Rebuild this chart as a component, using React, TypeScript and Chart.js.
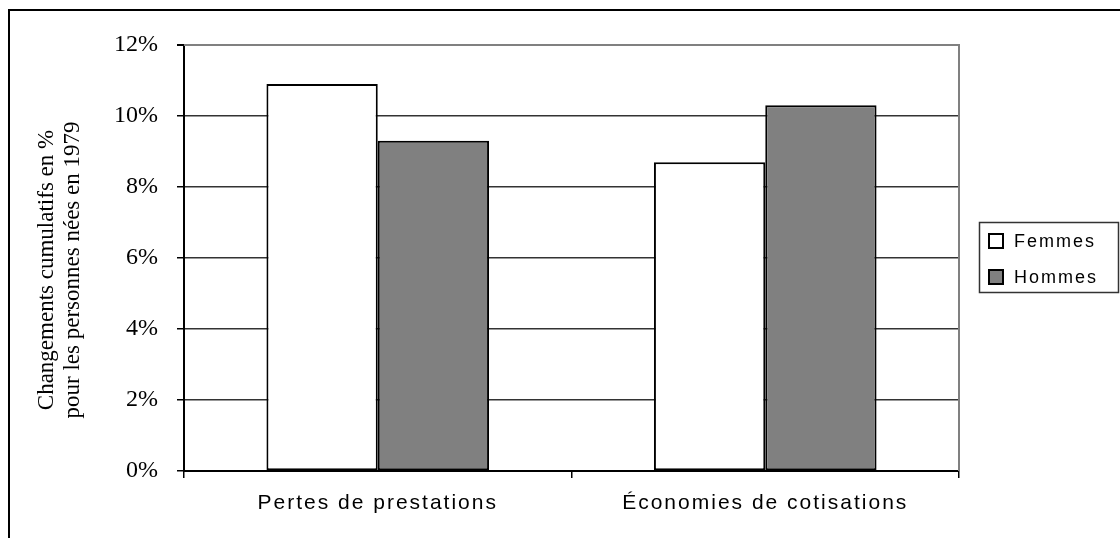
import React, { useEffect, useRef } from 'react';
import { Chart, registerables } from 'chart.js';

Chart.register(...registerables);

const categories = ['Pertes de prestations', 'Économies de cotisations'];
const seriesNames = ['Femmes', 'Hommes'];
const femmes = [10.9, 8.7];
const hommes = [9.3, 10.3];
const yTicks = [0, 2, 4, 6, 8, 10, 12];
const yTitle = ['Changements cumulatifs en %', 'pour les personnes nées en 1979'];

const W = 1120;
const H = 538;
const SERIF = '"Liberation Serif", "Times New Roman", serif';
const SANS = '"Liberation Sans", Arial, sans-serif';

const framePlugin = {
  id: 'frame',
  beforeDraw(chart: any) {
    const ctx = chart.ctx;
    ctx.save();
    ctx.fillStyle = '#fff';
    ctx.fillRect(0, 0, W, H);
    ctx.strokeStyle = '#000';
    ctx.lineWidth = 2;
    ctx.beginPath();
    ctx.moveTo(9, H + 5);
    ctx.lineTo(9, 10);
    ctx.lineTo(W + 5, 10);
    ctx.stroke();
    ctx.restore();
  },
  beforeDatasetsDraw(chart: any) {
    const { ctx, chartArea } = chart;
    ctx.save();
    ctx.strokeStyle = '#808080';
    ctx.lineWidth = 2;
    ctx.beginPath();
    ctx.moveTo(chartArea.left, chartArea.top);
    ctx.lineTo(chartArea.right, chartArea.top);
    ctx.lineTo(chartArea.right, chartArea.bottom);
    ctx.stroke();
    ctx.restore();
  },
};

const spacingPlugin = {
  id: 'xSpacing',
  beforeDraw(chart: any) {
    const s = chart.scales.x;
    if (s && !s.__patched) {
      const orig = s.drawLabels.bind(s);
      s.drawLabels = (area: any) => {
        const ctx = chart.ctx;
        ctx.save();
        (ctx as any).letterSpacing = '2px';
        orig(area);
        (ctx as any).letterSpacing = '0px';
        ctx.restore();
      };
      s.__patched = true;
    }
  },
};

const yTitlePlugin = {
  id: 'yTitleLines',
  afterDraw(chart: any) {
    const ctx = chart.ctx;
    ctx.save();
    ctx.fillStyle = '#000';
    ctx.font = '23px ' + SERIF;
    ctx.textAlign = 'center';
    ctx.textBaseline = 'middle';
    yTitle.forEach((t, i) => {
      ctx.save();
      ctx.translate(47 + i * 26, 270);
      ctx.rotate(-Math.PI / 2);
      ctx.fillText(t, 0, 0);
      ctx.restore();
    });
    ctx.restore();
  },
};

const legendPlugin = {
  id: 'boxLegend',
  afterDraw(chart: any) {
    const ctx = chart.ctx;
    ctx.save();
    ctx.strokeStyle = '#333';
    ctx.lineWidth = 1.5;
    ctx.strokeRect(979.5, 222.5, 139, 70);
    chart.data.datasets.forEach((ds: any, i: number) => {
      const cy = 241 + i * 36;
      ctx.fillStyle = ds.backgroundColor;
      ctx.fillRect(988, cy - 8, 16, 16);
      ctx.lineWidth = 2;
      ctx.strokeStyle = '#000';
      ctx.strokeRect(989, cy - 7, 14, 14);
      ctx.fillStyle = '#000';
      ctx.font = '18px ' + SANS;
      (ctx as any).letterSpacing = '2px';
      ctx.textBaseline = 'middle';
      ctx.textAlign = 'left';
      ctx.fillText(ds.label, 1014, cy + 1);
      (ctx as any).letterSpacing = '0px';
    });
    ctx.restore();
  },
};

export default function App() {
  const ref = useRef<HTMLCanvasElement | null>(null);

  useEffect(() => {
    if (!ref.current) return;
    const chart = new Chart(ref.current, {
      type: 'bar',
      data: {
        labels: categories,
        datasets: [
          {
            label: seriesNames[0],
            data: femmes,
            backgroundColor: '#ffffff',
            borderColor: '#000000',
            borderWidth: 2,
            borderSkipped: false,
          },
          {
            label: seriesNames[1],
            data: hommes,
            backgroundColor: '#808080',
            borderColor: '#000000',
            borderWidth: 2,
            borderSkipped: false,
          },
        ],
      },
      options: {
        responsive: false,
        animation: false,
        devicePixelRatio: 1,
        layout: { padding: { left: 10, top: 45, right: W - 959, bottom: 0 } },
        datasets: {
          bar: { categoryPercentage: 0.5745, barPercentage: 1.0 },
        },
        plugins: {
          legend: { display: false },
          tooltip: { enabled: false },
          title: { display: false },
        },
        scales: {
          x: {
            type: 'category',
            grid: {
              display: true,
              drawOnChartArea: false,
              drawTicks: true,
              tickLength: 7,
              color: '#000',
              lineWidth: 1.5,
              offset: true,
            },
            border: { display: true, color: '#000', width: 2 },
            ticks: {
              color: '#000',
              padding: 13,
              font: { family: SANS, size: 21 },
              maxRotation: 0,
              minRotation: 0,
            },
            afterFit: (scale: any) => {
              scale.height = H - 471;
            },
          },
          y: {
            type: 'linear',
            min: 0,
            max: 12,
            afterBuildTicks: (scale: any) => {
              scale.ticks = yTicks.map((v) => ({ value: v }));
            },
            grid: {
              color: (c: any) => (c.tick && c.tick.value === 12 ? '#808080' : '#333'),
              lineWidth: (c: any) => (c.tick && c.tick.value === 12 ? 2 : 1.5),
              tickColor: '#000',
              tickLength: 7,
              drawTicks: true,
            },
            border: { display: true, color: '#000', width: 2 },
            ticks: {
              color: '#000',
              padding: 19,
              font: { family: SERIF, size: 24 },
              callback: (v: any) => v + '%',
            },
            title: { display: false },
            afterFit: (scale: any) => {
              scale.width = 184 - 10;
            },
          },
        },
      },
      plugins: [framePlugin, spacingPlugin, yTitlePlugin, legendPlugin],
    } as any);
    return () => chart.destroy();
  }, []);

  return (
    <canvas
      ref={ref}
      width={W}
      height={H}
      style={{ position: 'fixed', left: 0, top: 0, width: W, height: H }}
    />
  );
}
